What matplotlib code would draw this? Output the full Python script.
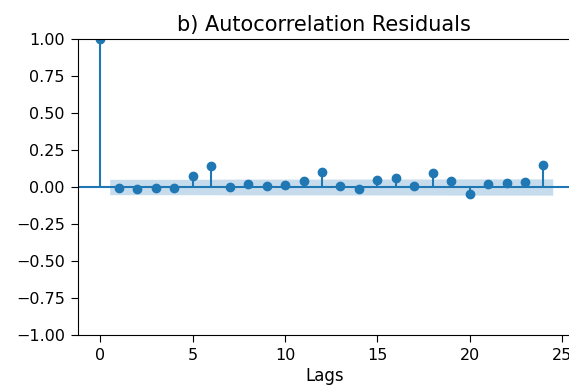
import numpy as np
import matplotlib
matplotlib.use("Agg")
import matplotlib.pyplot as plt

# Residual autocorrelation estimates, lags 0..24
lags = list(range(25))
acf_values = [1.0, -0.01, -0.015, -0.005, -0.005, 0.075, 0.14, 0.003, 0.018,
              0.01, 0.015, 0.043, 0.10, 0.007, -0.015, 0.047, 0.059, 0.009,
              0.097, 0.039, -0.045, 0.018, 0.025, 0.032, 0.147]
nobs = 1420
alpha_z = 1.96

lags_arr = np.asarray(lags)
acf_arr = np.asarray(acf_values)

# Bartlett's formula for the confidence band around zero
varacf = np.ones(len(acf_arr)) / nobs
varacf[0] = 0
varacf[1] = 1.0 / nobs
varacf[2:] *= 1 + 2 * np.cumsum(acf_arr[1:-1] ** 2)
halfwidth = alpha_z * np.sqrt(varacf)

W, H, DPI = 569, 387, 100
fig = plt.figure(figsize=(W / DPI, H / DPI), dpi=DPI)

left_px, top_px, bottom_px = 78.3, 39.0, 335.0
x0, x1 = -1.2, 25.45
px_per_lag = 18.46
width_px = (x1 - x0) * px_per_lag
ax = fig.add_axes([left_px / W, (H - bottom_px) / H,
                   width_px / W, (bottom_px - top_px) / H])

color = "#1f77b4"
ax.vlines(lags_arr, 0, acf_arr, colors=color, linewidth=1.5)
ax.axhline(0, color=color, linewidth=1.5)
ax.plot(lags_arr, acf_arr, marker="o", markersize=6, linestyle="None", color=color)
band_x = lags_arr[1:].astype(float).copy()
band_x[0] -= 0.5
band_x[-1] += 0.5
ax.fill_between(band_x, -halfwidth[1:], halfwidth[1:], alpha=0.25,
                color=color, linewidth=0)

ax.set_xlim(x0, x1)
ax.set_ylim(-1.0, 1.0)
ax.set_xticks([0, 5, 10, 15, 20, 25])
ax.set_yticks(np.arange(-1.0, 1.01, 0.25))
ax.tick_params(labelsize=11.5, length=4.7, pad=5.0)
ax.set_title("b) Autocorrelation Residuals", fontsize=15)
ax.set_xlabel("Lags", fontsize=12, labelpad=2.5)

fig.savefig("out.png", dpi=DPI)
